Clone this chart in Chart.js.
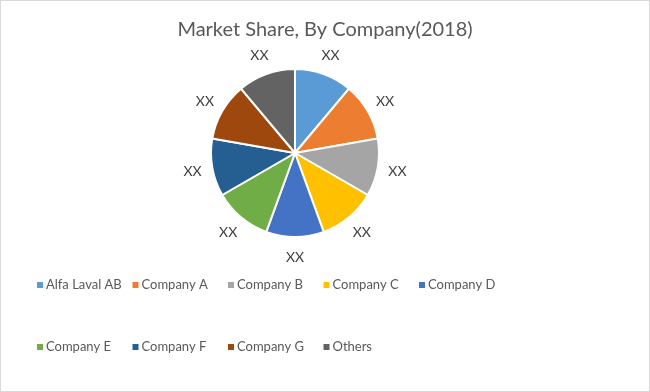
<!DOCTYPE html>
<html>
<head>
<meta charset="utf-8">
<script src="https://cdn.jsdelivr.net/npm/chart.js@4.4.0/dist/chart.umd.min.js"></script>
<style>
  html, body { margin: 0; padding: 0; background: #fff; }
  #wrap { width: 648px; height: 390px; border: 1px solid #d9d9d9; }
  canvas { display: block; }
</style>
</head>
<body>
<div id="wrap"><canvas id="myChart" width="648" height="390"></canvas></div>
<script>
var chartTitle = "Market Share, By Company(2018)";
var companies = [
  "Alfa Laval AB",
  "Company A",
  "Company B",
  "Company C",
  "Company D",
  "Company E",
  "Company F",
  "Company G",
  "Others",
];
// all nine slices are the same size in the picture
var shares = [11.1, 11.1, 11.1, 11.1, 11.1, 11.1, 11.1, 11.1, 11.1];
var valueLabels = ["XX", "XX", "XX", "XX", "XX", "XX", "XX", "XX", "XX"];
var colors = [
  "#5B9BD5", // light blue
  "#ED7D31", // orange
  "#A5A5A5", // grey
  "#FFC000", // gold
  "#4472C4", // blue
  "#70AD47", // green
  "#255E91", // dark blue
  "#9E480E", // brown
  "#636363", // dark grey
];

// title, outside labels and the excel style legend grid
var excelLook = {
  id: "excelLook",
  afterDraw: function (chart) {
    var ctx = chart.ctx;
    ctx.save();
    ctx.textAlign = "center";
    ctx.textBaseline = "middle";
    ctx.fillStyle = "#595959";
    ctx.font = "20px Lato";
    ctx.fillText(chartTitle, chart.width / 2, 29);

    var meta = chart.getDatasetMeta(0);
    ctx.font = "14px Lato";
    ctx.fillStyle = "#404040";
    meta.data.forEach(function (arc, i) {
      var p = arc.getProps(["x", "y", "startAngle", "endAngle", "outerRadius"], true);
      var mid = (p.startAngle + p.endAngle) / 2;
      var r = p.outerRadius + 20;
      ctx.fillText(valueLabels[i], p.x + Math.cos(mid) * r, p.y + Math.sin(mid) * r);
    });

    ctx.font = "13px Lato";
    ctx.textAlign = "left";
    companies.forEach(function (name, i) {
      var col = i % 5;
      var row = Math.floor(i / 5);
      var x = 36 + col * 95.5;
      var y = 284 + row * 62;
      ctx.fillStyle = colors[i];
      ctx.fillRect(x, y - 3, 6, 6);
      ctx.fillStyle = "#595959";
      ctx.fillText(name, x + 9, y);
    });
    ctx.restore();
  },
};

var ctx = document.getElementById("myChart").getContext("2d");
var myChart = new Chart(ctx, {
  type: "pie",
  data: {
    labels: companies,
    datasets: [
      {
        data: shares,
        backgroundColor: colors,
        borderColor: "#ffffff",
        borderWidth: 2,
      },
    ],
  },
  options: {
    responsive: false,
    animation: false,
    layout: {
      padding: { top: 67, bottom: 153, left: 60, right: 120 },
    },
    plugins: {
      legend: { display: false },
      title: { display: false },
      tooltip: { enabled: false },
    },
  },
  plugins: [excelLook],
});
</script>
</body>
</html>
